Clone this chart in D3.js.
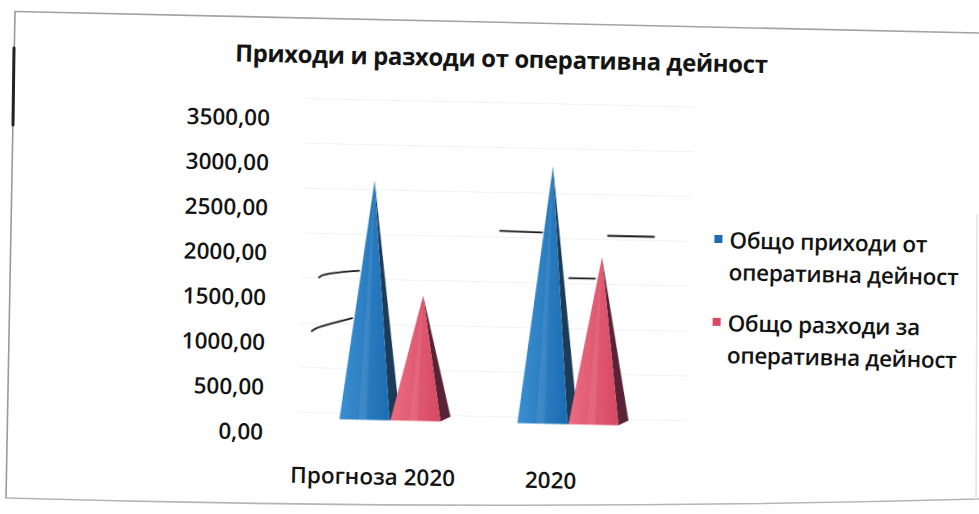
<!DOCTYPE html>
<html>
<head>
<meta charset="utf-8">
<script src="https://cdn.jsdelivr.net/npm/d3@7"></script>
<style>
  html, body { margin: 0; padding: 0; background: #fff; }
  svg { display: block; }
  text { font-family: "Open Sans", "Noto Sans", sans-serif; fill: #141414; }
</style>
</head>
<body>
<svg id="chart" width="979" height="514"></svg>
<script>
// Operating income and expenses, forecast vs. actual
const categories = ["Прогноза 2020", "2020"];
const seriesNames = ["Общо приходи от оперативна дейност", "Общо разходи за оперативна дейност"];
const incomeValues = [2670, 2870];
const expenseValues = [1400, 1870];
const yTicks = [0, 500, 1000, 1500, 2000, 2500, 3000, 3500];
const legendLines = [["Общо приходи от", "оперативна дейност"], ["Общо разходи за", "оперативна дейност"]];
const titleText = "Приходи и разходи от оперативна дейност";

// hand-drawn pen strokes on the printed page, given in axis units per category
const penStrokes = [
  { cat: "Прогноза 2020", from: [-70, 1770], to: [-34, 1810], hook: true },
  { cat: "Прогноза 2020", from: [-76, 1170], to: [-40, 1280], hook: true },
  { cat: "2020", from: [-72, 2290], to: [-30, 2280], hook: false },
  { cat: "2020", from: [-2, 1780], to: [24, 1780], hook: false },
  { cat: "2020", from: [36, 2260], to: [82, 2260], hook: false }
];

const svg = d3.select("#chart");

// page frame of the printed sheet (slightly skewed)
const frame = svg.append("g").attr("fill", "none").attr("stroke-linecap", "round");
frame.append("path").attr("d", "M15,11.5 L979,33").attr("stroke", "#a3a3a3").attr("stroke-width", 1.6);
frame.append("path").attr("d", "M15,11.5 L6,498").attr("stroke", "#9a9a9a").attr("stroke-width", 1.6);
frame.append("path").attr("d", "M6,498 Q500,512 979,499").attr("stroke", "#b5b5b5").attr("stroke-width", 1.6);
frame.append("path").attr("d", "M977,215 L976,500").attr("stroke", "#e2e2e2").attr("stroke-width", 1.4);
frame.append("path").attr("d", "M14,48 L13,125").attr("stroke", "#222").attr("stroke-width", 3);

const root = svg.append("g").attr("transform", "rotate(1.25,490,257)");

const colors = {
  front: [["#3a8fd0", "#1c6cb2"], ["#ea6c80", "#d74862"]],
  side: ["#1b3a58", "#5a2434"]
};

const defs = svg.append("defs");
colors.front.forEach((c, i) => {
  const g = defs.append("linearGradient").attr("id", "front" + i)
    .attr("x1", 0).attr("x2", 1).attr("y1", 0).attr("y2", 0);
  g.append("stop").attr("offset", "0%").attr("stop-color", c[0]);
  g.append("stop").attr("offset", "100%").attr("stop-color", c[1]);
});
defs.append("filter").attr("id", "soft")
  .append("feGaussianBlur").attr("stdDeviation", 0.5);

// scales
const y = d3.scaleLinear().domain([0, 3500]).range([436, 122]);
const floorOffset = 13.5;
const x0 = d3.scaleBand().domain(categories).range([304.5, 660.5]).padding(0);
const x1 = d3.scaleBand().domain(seriesNames).range([38, 140]).padding(0);

// faint back-wall gridlines
root.append("g").selectAll("line").data(yTicks).join("line")
  .attr("x1", 302).attr("x2", 690)
  .attr("y1", d => y(d) - floorOffset - 6).attr("y2", d => y(d) - floorOffset - 6)
  .attr("stroke", "#f3f3f3").attr("stroke-width", 1);

// title
root.append("text")
  .attr("x", 497).attr("y", 67)
  .attr("text-anchor", "middle")
  .attr("font-weight", 700).attr("font-size", 24)
  .attr("letter-spacing", -0.4)
  .text(titleText);

// value axis
const yAxis = d3.axisLeft(y).tickValues(yTicks)
  .tickFormat(d => d3.format(".2f")(d).replace(".", ","))
  .tickSize(0).tickPadding(0);
const axisG = root.append("g").attr("transform", "translate(267,0)").call(yAxis);
axisG.select(".domain").remove();
axisG.selectAll("text")
  .attr("font-size", 22.5).attr("font-weight", 600)
  .attr("font-family", "'Open Sans', sans-serif").attr("fill", "#141414")
  .attr("dy", "0.36em");

// category labels
root.append("g").selectAll("text").data(categories).join("text")
  .attr("x", d => x0(d) + x0.bandwidth() / 2 - 16)
  .attr("y", 487)
  .attr("text-anchor", "middle")
  .attr("font-size", 22.5).attr("font-weight", 600)
  .text(d => d);

// pyramids
const bars = [];
categories.forEach((c, ci) => {
  seriesNames.forEach((s, si) => {
    bars.push({ cat: c, series: s, si, value: si === 0 ? incomeValues[ci] : expenseValues[ci] });
  });
});

const fw = 50, depthX = 10, depthY = 5;
const pyrG = root.append("g").attr("filter", "url(#soft)");
bars.forEach(b => {
  const cx = x0(b.cat) + x1(b.series) + x1.bandwidth() / 2;
  const yb = y(0) - floorOffset;
  const apex = [cx + depthX / 2, y(b.value) - floorOffset];
  const fl = [cx - fw / 2, yb], fr = [cx + fw / 2, yb];
  const br = [cx + fw / 2 + depthX, yb - depthY];
  pyrG.append("path")
    .attr("d", d3.line()([fr, br, apex]) + "Z")
    .attr("fill", colors.side[b.si]);
  pyrG.append("path")
    .attr("d", d3.line()([fl, fr, apex]) + "Z")
    .attr("fill", `url(#front${b.si})`);
  // soft highlight ridge on the front face
  pyrG.append("path")
    .attr("d", d3.line()([[cx - 6, yb], [cx + 2, yb], apex]) + "Z")
    .attr("fill", "#ffffff").attr("opacity", 0.08);
});

// legend
const legend = root.append("g").attr("transform", "translate(718,0)");
const legendTops = [243, 326];
legendLines.forEach((lines, i) => {
  const top = legendTops[i];
  legend.append("rect")
    .attr("x", -4).attr("y", top - 13).attr("width", 8).attr("height", 8)
    .attr("fill", colors.front[i][1]);
  lines.forEach((t, li) => {
    legend.append("text")
      .attr("x", 11).attr("y", top + li * 32)
      .attr("font-size", 22.5).attr("font-weight", 600)
      .attr("letter-spacing", -0.3)
      .text(t);
  });
});

// pen strokes
const penG = root.append("g").attr("fill", "none").attr("stroke", "#1a1a1a")
  .attr("stroke-width", 1.8).attr("stroke-linecap", "round");
penStrokes.forEach(p => {
  const cx = x0(p.cat) + x0.bandwidth() / 2;
  const a = [cx + p.from[0], y(p.from[1])];
  const b = [cx + p.to[0], y(p.to[1])];
  const pts = p.hook ? [[a[0] - 4, a[1] + 4], a, b] : [a, b];
  penG.append("path").attr("d", d3.line().curve(d3.curveBasis)(pts));
});
</script>
</body>
</html>
